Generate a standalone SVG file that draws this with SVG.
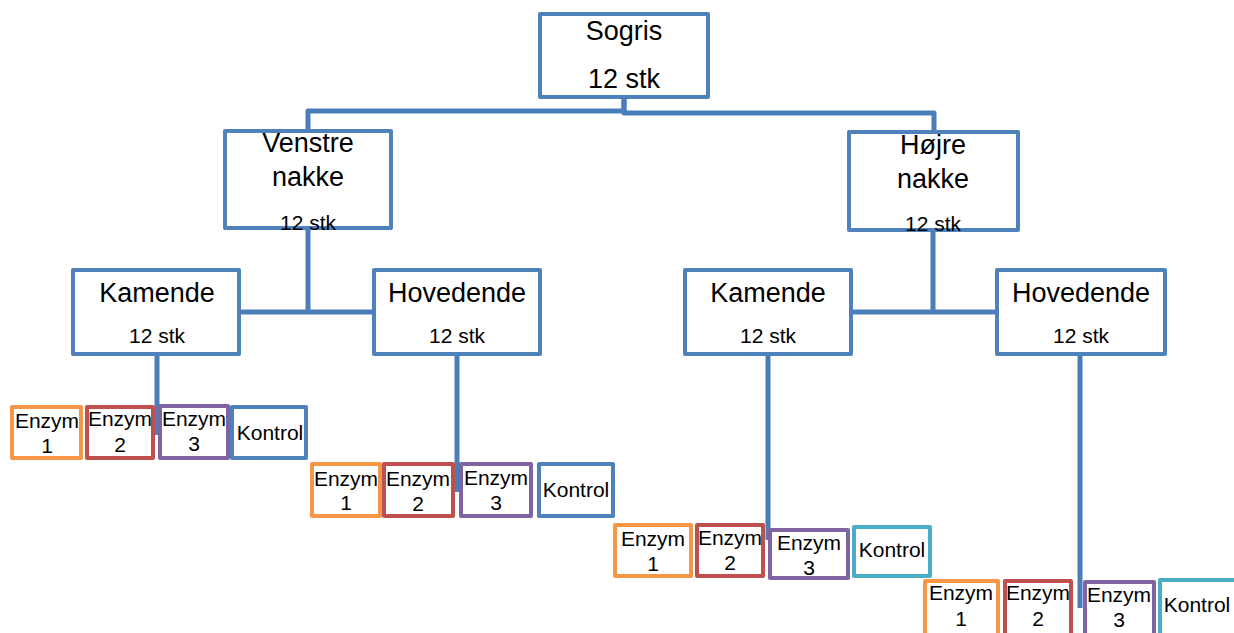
<svg xmlns="http://www.w3.org/2000/svg" width="1234" height="633" viewBox="0 0 1234 633">
<style>
.box{fill:#fff;stroke:#4F81BD;stroke-width:4;stroke-linejoin:round}
.o{fill:#fff;stroke:#F79646;stroke-width:4;stroke-linejoin:round}
.r{fill:#fff;stroke:#C0504D;stroke-width:4;stroke-linejoin:round}
.p{fill:#fff;stroke:#8064A2;stroke-width:4;stroke-linejoin:round}
.b{fill:#fff;stroke:#4F81BD;stroke-width:4;stroke-linejoin:round}
.a{fill:#fff;stroke:#4BACC6;stroke-width:4;stroke-linejoin:round}
.c{fill:none;stroke:#4A7EBB;stroke-width:5;stroke-linejoin:round}
text{font-family:"Liberation Sans",Arial,sans-serif;fill:#000;text-anchor:middle}
.t{font-size:27px}
.s{font-size:21px}
.e{font-size:21px}
</style>
<rect width="1234" height="633" fill="#fff"/>
<g id="connectors">
<path class="c" d="M308,130 V111 H624 V98"/>
<path class="c" d="M624,98 V113 H934 V131"/>
<path class="c" d="M308,229 V312"/>
<path class="c" d="M241,312 H373"/>
<path class="c" d="M933,232 V312"/>
<path class="c" d="M853,312 H996"/>
<path class="c" d="M157,355 V435"/>
<path class="c" d="M457,355 V492"/>
<path class="c" d="M768,355 V540"/>
<path class="c" d="M1080,355 V608"/>
</g>
<g id="sogris"><rect class="box" x="540" y="14" width="168" height="83"/><text class="t" x="624" y="40">Sogris</text><text class="t" x="624" y="88">12 stk</text></g>
<g id="venstre"><rect class="box" x="225" y="131" width="166" height="97"/><text class="t" x="308" y="152">Venstre</text><text class="t" x="308" y="186">nakke</text><text class="s" x="308" y="230">12 stk</text></g>
<g id="hojre"><rect class="box" x="849" y="132" width="169" height="98"/><text class="t" x="933" y="154">Højre</text><text class="t" x="933" y="188">nakke</text><text class="s" x="933" y="231">12 stk</text></g>
<g id="kamende-v"><rect class="box" x="73" y="270" width="166" height="84"/><text class="t" x="157" y="302">Kamende</text><text class="s" x="157" y="343">12 stk</text></g>
<g id="hovedende-v"><rect class="box" x="374" y="270" width="166" height="84"/><text class="t" x="457" y="302">Hovedende</text><text class="s" x="457" y="343">12 stk</text></g>
<g id="kamende-h"><rect class="box" x="685" y="270" width="166" height="84"/><text class="t" x="768" y="302">Kamende</text><text class="s" x="768" y="343">12 stk</text></g>
<g id="hovedende-h"><rect class="box" x="997" y="270" width="168" height="84"/><text class="t" x="1081" y="302">Hovedende</text><text class="s" x="1081" y="343">12 stk</text></g>

<g id="r1-e1"><rect class="o" x="12" y="407" width="69" height="51"/><text class="e" x="47" y="428">Enzym</text><text class="e" x="47" y="453">1</text></g>
<g id="r1-e2"><rect class="r" x="87" y="407" width="66" height="51"/><text class="e" x="120" y="426">Enzym</text><text class="e" x="120" y="452">2</text></g>
<g id="r1-e3"><rect class="p" x="160" y="406" width="68" height="52"/><text class="e" x="194" y="426">Enzym</text><text class="e" x="194" y="451">3</text></g>
<g id="r1-k"><rect class="b" x="232" y="407" width="74" height="51"/><text class="e" x="270" y="440">Kontrol</text></g>

<g id="r2-e1"><rect class="o" x="312" y="464" width="68" height="52"/><text class="e" x="346" y="486">Enzym</text><text class="e" x="346" y="510">1</text></g>
<g id="r2-e2"><rect class="r" x="384" y="464" width="69" height="52"/><text class="e" x="418" y="486">Enzym</text><text class="e" x="418" y="511">2</text></g>
<g id="r2-e3"><rect class="p" x="461" y="464" width="70" height="52"/><text class="e" x="496" y="485">Enzym</text><text class="e" x="496" y="510">3</text></g>
<g id="r2-k"><rect class="b" x="539" y="464" width="74" height="52"/><text class="e" x="576" y="497">Kontrol</text></g>

<g id="r3-e1"><rect class="o" x="615" y="525" width="76" height="51"/><text class="e" x="653" y="546">Enzym</text><text class="e" x="653" y="571">1</text></g>
<g id="r3-e2"><rect class="r" x="697" y="525" width="66" height="51"/><text class="e" x="730" y="545">Enzym</text><text class="e" x="730" y="570">2</text></g>
<g id="r3-e3"><rect class="p" x="770" y="530" width="78" height="48"/><text class="e" x="809" y="550">Enzym</text><text class="e" x="809" y="575">3</text></g>
<g id="r3-k"><rect class="a" x="854" y="527" width="76" height="49"/><text class="e" x="892" y="557">Kontrol</text></g>

<g id="r4-e1"><rect class="o" x="925" y="581" width="73" height="60"/><text class="e" x="961" y="600">Enzym</text><text class="e" x="961" y="626">1</text></g>
<g id="r4-e2"><rect class="r" x="1005" y="581" width="66" height="60"/><text class="e" x="1038" y="600">Enzym</text><text class="e" x="1038" y="626">2</text></g>
<g id="r4-e3"><rect class="p" x="1085" y="582" width="69" height="60"/><text class="e" x="1119" y="602">Enzym</text><text class="e" x="1119" y="627">3</text></g>
<g id="r4-k"><rect class="a" x="1160" y="580" width="80" height="60"/><text class="e" x="1197" y="612">Kontrol</text></g>
</svg>
